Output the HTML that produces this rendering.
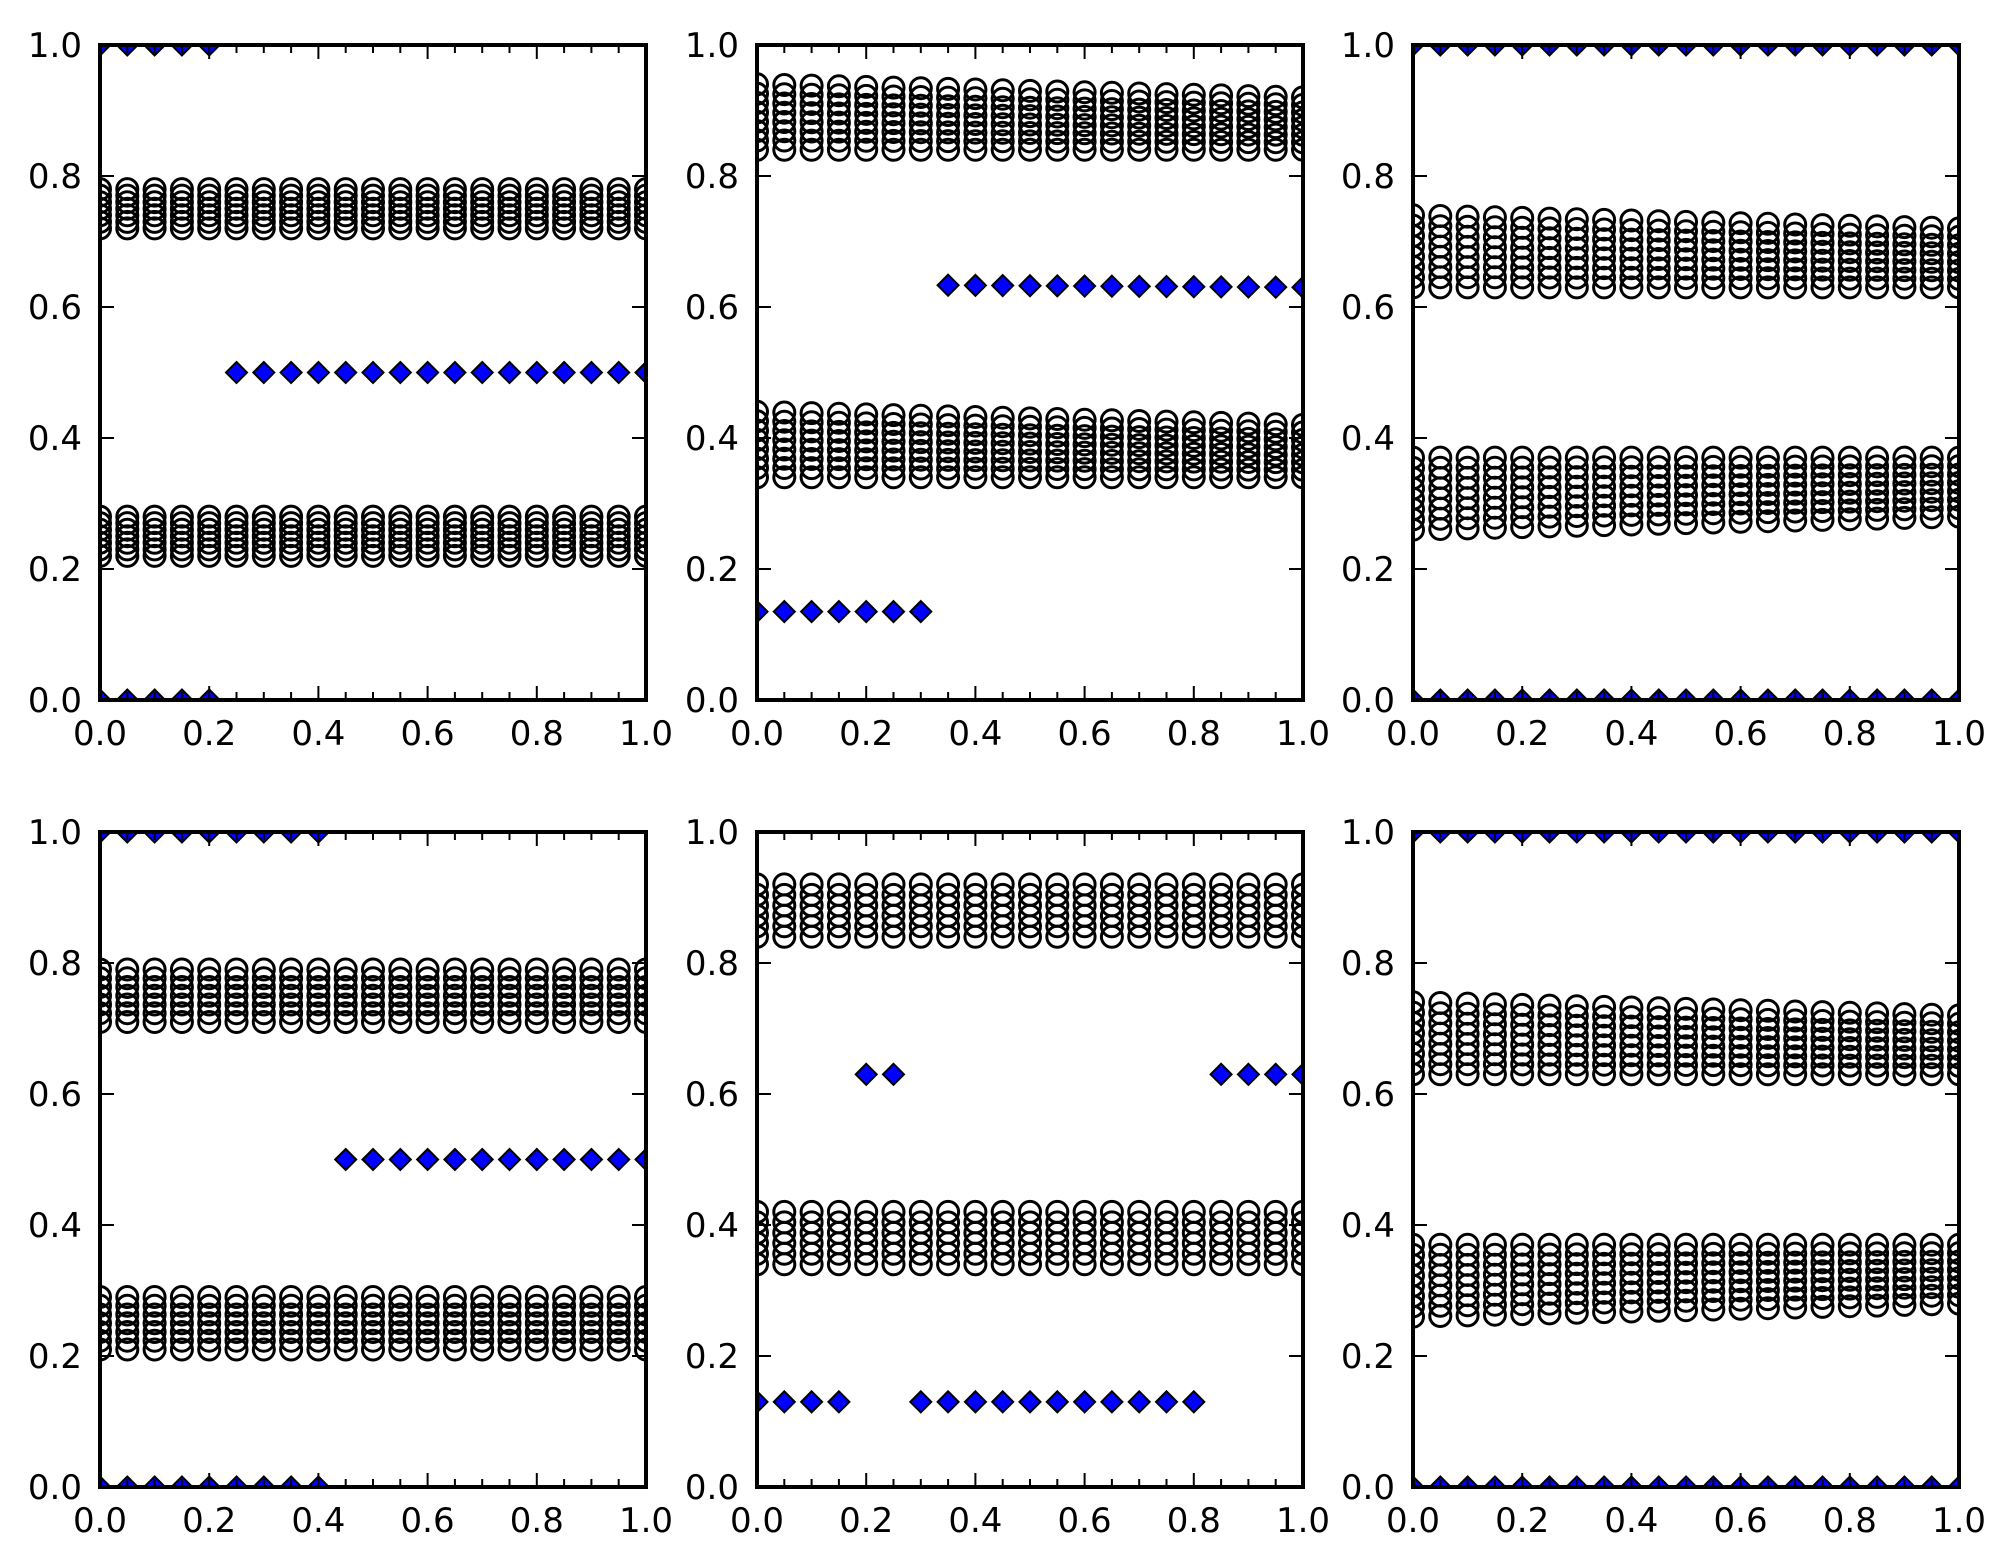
<!DOCTYPE html>
<html><head><meta charset="utf-8">
<style>
html,body{margin:0;padding:0;background:#fff;}
svg{display:block;}
text{font-family:"DejaVu Sans","Liberation Sans",sans-serif;font-size:34px;fill:#000;}
</style></head>
<body>
<svg id="s" width="2011" height="1565" xmlns="http://www.w3.org/2000/svg"></svg>
<script>
var S=document.getElementById('s');
var out='';
var lefts=[100,757,1413],tops=[45,832],W=546,H=655;
function lin(a,b,t){return a+(b-a)*t;}
var panels=[
 {c:[[0.72,0.78],[0.22,0.28]],d:function(i,x){return x<=0.2001?[0,1]:[0.5];},n:7},
 {c:[[0.84,0.94,0.84,0.92],[0.34,0.44,0.34,0.42]],d:function(i,x){return x<=0.3001?[0.135]:[lin(0.635,0.63,x)];},n:8},
 {c:[[0.63,0.74,0.63,0.72],[0.26,0.37,0.28,0.37]],d:function(){return [0,1];},n:8},
 {c:[[0.71,0.79],[0.21,0.29]],d:function(i,x){return x<=0.4001?[0,1]:[0.5];},n:7},
 {c:[[0.84,0.92],[0.34,0.42]],d:function(i,x){if(i==4||i==5)return [0.63];if(i>=17)return [0.63];if(i>=6||i<=3)return [0.13];return [];},n:6},
 {c:[[0.63,0.74,0.63,0.72],[0.26,0.37,0.28,0.37]],d:function(){return [0,1];},n:8}
];
for(var p=0;p<6;p++){
 var L=lefts[p%3],T=tops[Math.floor(p/3)],P=panels[p];
 var X=function(v){return L+v*W;},Y=function(v){return T+H-v*H;};
 out+='<clipPath id="c'+p+'"><rect x="'+L+'" y="'+T+'" width="'+W+'" height="'+H+'"/></clipPath><g clip-path="url(#c'+p+')">';
 for(var i=0;i<=20;i++){
  var x=i*0.05;
  P.c.forEach(function(r){
   var lo=r[0],hi=r[1];
   if(r.length==4){lo=lin(r[0],r[2],x);hi=lin(r[1],r[3],x);}
   for(var k=0;k<P.n;k++){var y=lo+(hi-lo)*k/(P.n-1);
    out+='<circle cx="'+X(x).toFixed(1)+'" cy="'+Y(y).toFixed(1)+'" r="10.5" fill="none" stroke="#000" stroke-width="3"/>';}
  });
 }
 for(var i=0;i<=20;i++){
  var x=i*0.05;P.d(i,x).forEach(function(y){
   var cx=X(x),cy=Y(y),d=10.5;
   out+='<path d="M'+cx+' '+(cy-d)+'L'+(cx+d)+' '+cy+'L'+cx+' '+(cy+d)+'L'+(cx-d)+' '+cy+'Z" fill="#0000ff" stroke="#000" stroke-width="2"/>';
  });
 }
 out+='</g>';
 for(var i=0;i<=20;i++){var x=X(i*0.05);var len=(i%4==0)?14:8;
  out+='<line x1="'+x+'" y1="'+(T+H)+'" x2="'+x+'" y2="'+(T+H-len)+'" stroke="#000" stroke-width="2"/>';
  out+='<line x1="'+x+'" y1="'+T+'" x2="'+x+'" y2="'+(T+len)+'" stroke="#000" stroke-width="2"/>';}
 for(var j=0;j<=5;j++){var y=Y(j*0.2);
  out+='<line x1="'+L+'" y1="'+y+'" x2="'+(L+14)+'" y2="'+y+'" stroke="#000" stroke-width="2"/>';
  out+='<line x1="'+(L+W)+'" y1="'+y+'" x2="'+(L+W-14)+'" y2="'+y+'" stroke="#000" stroke-width="2"/>';
  out+='<text x="'+(L-18)+'" y="'+(y+12)+'" text-anchor="end">'+(j*0.2).toFixed(1)+'</text>';
  out+='<text x="'+X(j*0.2)+'" y="'+(T+H+45)+'" text-anchor="middle">'+(j*0.2).toFixed(1)+'</text>';}
 out+='<rect x="'+L+'" y="'+T+'" width="'+W+'" height="'+H+'" fill="none" stroke="#000" stroke-width="4"/>';
}
S.innerHTML=out;
</script>
</body></html>
